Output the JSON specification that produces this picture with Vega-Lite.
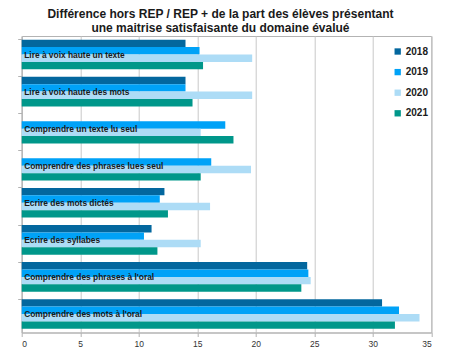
{
  "$schema": "https://vega.github.io/schema/vega-lite/v6.json",
  "autosize": {"type": "none"},
  "padding": {"left": 21.7, "top": 36, "right": 18.8, "bottom": 23.5},
  "width": 409.5,
  "height": 296.5,
  "title": {
    "text": ["Différence hors REP / REP + de la part des élèves présentant", "une maitrise satisfaisante du domaine évalué"],
    "font": "Liberation Sans",
    "fontSize": 12,
    "fontWeight": "bold",
    "color": "#1a1a1a",
    "anchor": "middle",
    "dx": -6,
    "offset": 1,
    "lineHeight": 14
  },
  "config": {
    "view": {"stroke": "#b3b3b3", "strokeWidth": 1},
    "font": "Liberation Sans"
  },
  "datasets": {
    "bars": [
      {"cat": "Lire à voix haute un texte", "year": "2018", "value": 14.0},
      {"cat": "Lire à voix haute un texte", "year": "2019", "value": 15.2},
      {"cat": "Lire à voix haute un texte", "year": "2020", "value": 19.7},
      {"cat": "Lire à voix haute un texte", "year": "2021", "value": 15.5},
      {"cat": "Lire à voix haute des mots", "year": "2018", "value": 14.0},
      {"cat": "Lire à voix haute des mots", "year": "2019", "value": 14.0},
      {"cat": "Lire à voix haute des mots", "year": "2020", "value": 19.7},
      {"cat": "Lire à voix haute des mots", "year": "2021", "value": 14.6},
      {"cat": "Comprendre un texte lu seul", "year": "2019", "value": 17.4},
      {"cat": "Comprendre un texte lu seul", "year": "2020", "value": 15.3},
      {"cat": "Comprendre un texte lu seul", "year": "2021", "value": 18.1},
      {"cat": "Comprendre des phrases lues seul", "year": "2019", "value": 16.2},
      {"cat": "Comprendre des phrases lues seul", "year": "2020", "value": 19.6},
      {"cat": "Comprendre des phrases lues seul", "year": "2021", "value": 15.3},
      {"cat": "Ecrire des mots dictés", "year": "2018", "value": 12.2},
      {"cat": "Ecrire des mots dictés", "year": "2019", "value": 11.8},
      {"cat": "Ecrire des mots dictés", "year": "2020", "value": 16.1},
      {"cat": "Ecrire des mots dictés", "year": "2021", "value": 12.5},
      {"cat": "Ecrire des syllabes", "year": "2018", "value": 11.1},
      {"cat": "Ecrire des syllabes", "year": "2019", "value": 10.45},
      {"cat": "Ecrire des syllabes", "year": "2020", "value": 15.3},
      {"cat": "Ecrire des syllabes", "year": "2021", "value": 11.6},
      {"cat": "Comprendre des phrases à l'oral", "year": "2018", "value": 24.4},
      {"cat": "Comprendre des phrases à l'oral", "year": "2019", "value": 24.5},
      {"cat": "Comprendre des phrases à l'oral", "year": "2020", "value": 24.7},
      {"cat": "Comprendre des phrases à l'oral", "year": "2021", "value": 23.9},
      {"cat": "Comprendre des mots à l'oral", "year": "2018", "value": 30.8},
      {"cat": "Comprendre des mots à l'oral", "year": "2019", "value": 32.25},
      {"cat": "Comprendre des mots à l'oral", "year": "2020", "value": 34.0},
      {"cat": "Comprendre des mots à l'oral", "year": "2021", "value": 31.9}
    ],
    "labels": [
      {"cat": "Lire à voix haute un texte"},
      {"cat": "Lire à voix haute des mots"},
      {"cat": "Comprendre un texte lu seul"},
      {"cat": "Comprendre des phrases lues seul"},
      {"cat": "Ecrire des mots dictés"},
      {"cat": "Ecrire des syllabes"},
      {"cat": "Comprendre des phrases à l'oral"},
      {"cat": "Comprendre des mots à l'oral"}
    ]
  },
  "layer": [
    {
      "data": {"name": "bars"},
      "mark": {"type": "bar"},
      "encoding": {
        "y": {
          "field": "cat",
          "type": "nominal",
          "sort": null,
          "scale": {"paddingInner": 0.2, "paddingOuter": 0.1},
          "axis": {
            "title": null,
            "labels": false,
            "ticks": true,
            "bandPosition": 0,
            "tickSize": 4,
            "tickColor": "#b3b3b3",
            "domainColor": "#b3b3b3",
            "grid": false
          }
        },
        "yOffset": {"field": "year", "type": "nominal", "sort": ["2018", "2019", "2020", "2021"]},
        "x": {
          "field": "value",
          "type": "quantitative",
          "scale": {"domain": [0, 35], "nice": false},
          "axis": {
            "title": null,
            "values": [0, 5, 10, 15, 20, 25, 30, 35],
            "grid": true,
            "gridColor": "#c8c8c8",
            "tickColor": "#b3b3b3",
            "domainColor": "#b3b3b3",
            "tickSize": 4,
            "labelFontSize": 8.5,
            "labelColor": "#333333",
            "labelPadding": 3,
            "labelFont": "Liberation Sans"
          }
        },
        "color": {
          "field": "year",
          "type": "nominal",
          "scale": {"domain": ["2018", "2019", "2020", "2021"], "range": ["#03679e", "#00a2f7", "#addcf6", "#00978a"]},
          "legend": {
            "title": null,
            "orient": "none",
            "legendX": 371,
            "legendY": 10.5,
            "symbolType": "square",
            "symbolSize": 40,
            "symbolStrokeWidth": 0,
            "labelFontSize": 10,
            "labelFontWeight": "bold",
            "labelColor": "#1a1a1a",
            "labelFont": "Liberation Sans",
            "rowPadding": 10.6,
            "labelOffset": 3,
            "fillColor": "white"
          }
        }
      }
    },
    {
      "data": {"name": "labels"},
      "mark": {"type": "text", "align": "left", "baseline": "middle", "dx": 2.5, "fontSize": 8.4, "fontWeight": "bold", "color": "#1a1a1a", "font": "Liberation Sans"},
      "encoding": {
        "y": {"field": "cat", "type": "nominal", "sort": null},
        "x": {"datum": 0, "type": "quantitative"},
        "text": {"field": "cat"}
      }
    }
  ]
}
